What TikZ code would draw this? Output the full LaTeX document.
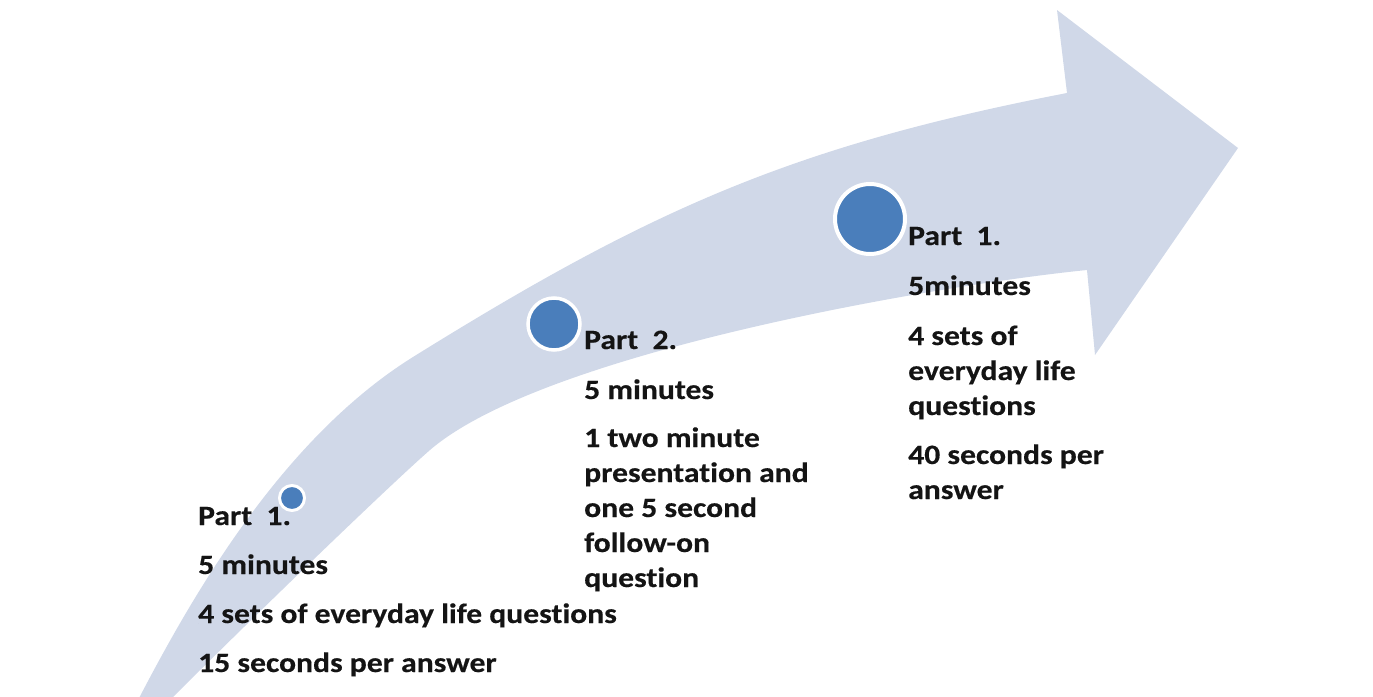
\documentclass[tikz,border=0pt]{standalone}
\usepackage{fontspec}
\setmainfont{Carlito}[Ligatures=NoCommon,FakeStretch=1.13,BoldFeatures={FakeBold=0.4}]
\definecolor{arrowfill}{RGB}{208,216,232}
\definecolor{dotblue}{RGB}{74,126,187}
\definecolor{txt}{RGB}{20,20,20}
\begin{document}
\begin{tikzpicture}[x=1pt,y=-1pt,
  dot/.style={circle,fill=dotblue,draw=white,inner sep=0pt},
  block/.style={anchor=base west,inner sep=0pt,text=txt,
    font=\bfseries\fontsize{28}{35}\selectfont}]
\useasboundingbox (0,0) rectangle (1373,696);
\clip (0,0) rectangle (1373,696);
% curved arrow
\fill[arrowfill]
  (137,702) .. controls (190,600) and (280,440) .. (413,357)
  .. controls (651,209) and (793,146) .. (1067,93)
  -- (1057,10) -- (1238,148) -- (1095,355) -- (1087,270)
  .. controls (938,285) and (544,352) .. (430,450)
  .. controls (392,483) and (250,620) .. (168,702)
  -- cycle;
% dots
\node[dot,minimum size=25pt,line width=3pt] (d1) at (292,498) {};
\node[dot,minimum size=52pt,line width=3.5pt] (d2) at (554,324) {};
\node[dot,minimum size=70pt,line width=4pt] (d3) at (870,219) {};
% texts
\node[block] (t1) at (198,525) {\begin{tabular}[t]{@{}l@{}}Part\ \ 1.\\[14pt] 5 minutes\\[14pt] 4 sets of everyday life questions\\[14pt] 15 seconds per answer\end{tabular}};
\node[block] (t2) at (584,349) {\begin{tabular}[t]{@{}l@{}}Part\ \ 2.\\[15pt] 5 minutes\\[13pt] 1 two minute\\ presentation and\\ one 5 second\\ follow-on\\ question\end{tabular}};
\node[block] (t3) at (908,245) {\begin{tabular}[t]{@{}l@{}}Part\ \ 1.\\[15pt] 5minutes\\[15pt] 4 sets of\\ everyday life\\ questions\\[14pt] 40 seconds per\\ answer\end{tabular}};
\end{tikzpicture}
\end{document}
